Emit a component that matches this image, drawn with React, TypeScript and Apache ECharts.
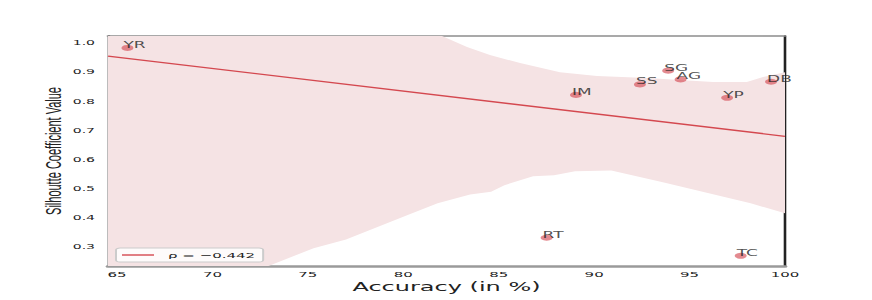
import React, { useEffect, useRef } from "react";
import * as echarts from "echarts";

// ---- data ----
const pointNames = ["YR", "RT", "IM", "SS", "SG", "AG", "YP", "TC", "DB"];
const accuracy = [65.55, 87.51, 89.05, 92.4, 93.88, 94.53, 96.97, 97.68, 99.27];
const silhouette = [0.983, 0.332, 0.822, 0.858, 0.905, 0.875, 0.812, 0.27, 0.867];

const fitX = [64.53, 100];
const fitY = [0.955, 0.68];

const bandUpperX = [64.53, 82.03, 83.34, 84.54, 86.12, 88.21, 90.15, 92.77, 96.23, 98.0, 98.85, 100];
const bandUpperY = [1.5, 1.024, 0.986, 0.959, 0.931, 0.9, 0.887, 0.88, 0.866, 0.866, 0.883, 0.9];
const bandLowerX = [64.53, 72.9, 75.3, 77.0, 80.3, 81.8, 83.5, 84.6, 85.3, 86.8, 87.9, 89.0, 90.9, 93.6, 98.2, 100];
const bandLowerY = [0.02, 0.234, 0.296, 0.326, 0.412, 0.45, 0.48, 0.49, 0.512, 0.543, 0.546, 0.56, 0.563, 0.522, 0.45, 0.416];

const xTicks = [65, 70, 75, 80, 85, 90, 95, 100];
const yTicks = [0.3, 0.4, 0.5, 0.6, 0.7, 0.8, 0.9, 1.0];

const legendLabel = "ρ = −0.442";
const xTitle = "Accuracy (in %)";
const yTitle = "Silhoutte Coefficient Value";

const X_MIN = 64.53;
const X_MAX = 100;
const Y_MIN = 0.235;
const Y_MAX = 1.024;

const FONT = "DejaVu Sans";

export default function App() {
  const ref = useRef<HTMLDivElement>(null);

  useEffect(() => {
    if (!ref.current) return;
    const chart = echarts.init(ref.current, undefined, { renderer: "svg" });

    const option: any = {
      animation: false,
      backgroundColor: "#ffffff",
      grid: { left: 54, right: 43.5, top: 36, bottom: 34, containLabel: false },
      legend: {
        data: [{ name: legendLabel, icon: "rect" }],
        left: 58,
        top: 248,
        orient: "horizontal",
        backgroundColor: "rgba(255,255,255,0.85)",
        borderColor: "#cccccc",
        borderWidth: 1,
        borderRadius: 2,
        padding: [3, 4, 3, 3],
        itemWidth: 16,
        itemHeight: 1.4,
        itemGap: 6,
        itemStyle: { color: "#d4484f" },
        textStyle: { fontFamily: FONT, fontSize: 7.5, color: "#222", padding: [0, 0, 0, 2] },
      },
      xAxis: [
        {
          type: "value",
          min: X_MIN,
          max: X_MAX,
          position: "bottom",
          name: xTitle,
          nameLocation: "middle",
          nameGap: 14.5,
          nameMoveOverlap: false,
          nameTextStyle: { fontFamily: FONT, fontSize: 12, color: "#222", lineHeight: 12 },
          axisLine: { show: true, lineStyle: { color: "#9a9a9a", width: 2.5 } },
          axisTick: { show: false, customValues: xTicks },
          splitLine: { show: false },
          axisLabel: {
            customValues: xTicks,
            fontFamily: FONT,
            fontSize: 7.5,
            color: "#222",
            margin: 4,
            formatter: (v: number) => String(Math.round(v)),
          },
        },
        {
          type: "value",
          min: X_MIN,
          max: X_MAX,
          position: "top",
          axisLine: { show: true, lineStyle: { color: "#8c8c8c", width: 1.5 } },
          axisTick: { show: false },
          axisLabel: { show: false },
          splitLine: { show: false },
        },
      ],
      yAxis: [
        {
          type: "value",
          min: Y_MIN,
          max: Y_MAX,
          position: "left",
          name: yTitle,
          nameLocation: "middle",
          nameGap: 22,
          nameMoveOverlap: false,
          nameRotate: 90,
          nameTextStyle: { fontFamily: "Liberation Sans", fontSize: 11, color: "#222" },
          axisLine: { show: true, lineStyle: { color: "#222", width: 1.3 } },
          axisTick: { show: false, customValues: yTicks },
          splitLine: { show: false },
          axisLabel: {
            customValues: yTicks,
            fontFamily: FONT,
            fontSize: 7,
            color: "#222",
            margin: 6.5,
            formatter: (v: number) => v.toFixed(1),
          },
        },
        {
          type: "value",
          min: Y_MIN,
          max: Y_MAX,
          position: "right",
          axisLine: { show: true, lineStyle: { color: "#222", width: 1.3 } },
          axisTick: { show: false },
          axisLabel: { show: false },
          splitLine: { show: false },
        },
      ],
      series: [
        {
          type: "custom",
          xAxisIndex: 0,
          yAxisIndex: 0,
          clip: true,
          z: 1,
          silent: true,
          data: [[fitX[0], fitY[0]]],
          renderItem: (_params: any, api: any) => {
            const pts: number[][] = [];
            for (let i = 0; i < bandUpperX.length; i++) {
              pts.push(api.coord([bandUpperX[i], bandUpperY[i]]));
            }
            for (let i = bandLowerX.length - 1; i >= 0; i--) {
              pts.push(api.coord([bandLowerX[i], bandLowerY[i]]));
            }
            return {
              type: "polygon",
              shape: { points: pts },
              style: { fill: "#f5e3e4", stroke: "none" },
            };
          },
        },
        {
          name: legendLabel,
          type: "line",
          xAxisIndex: 0,
          yAxisIndex: 0,
          z: 2,
          symbol: "none",
          showSymbol: false,
          data: fitX.map((x, i) => [x, fitY[i]]),
          lineStyle: { color: "#d4484f", width: 1.3 },
          itemStyle: { color: "#d4484f" },
        },
        {
          type: "scatter",
          xAxisIndex: 0,
          yAxisIndex: 0,
          z: 3,
          symbol: "circle",
          symbolSize: 6,
          data: accuracy.map((x, i) => [x, silhouette[i]]),
          itemStyle: { color: "rgba(214,82,92,0.85)" },
          label: {
            show: true,
            formatter: (p: any) => pointNames[p.dataIndex],
            position: [1, 4.5],
            align: "left",
            verticalAlign: "bottom",
            fontFamily: FONT,
            fontSize: 8.5,
            color: "#222",
          },
        },
      ],
    };

    chart.setOption(option);
    return () => chart.dispose();
  }, []);

  return (
    <div
      ref={ref}
      style={{
        position: "absolute",
        left: 0,
        top: 0,
        width: 436,
        height: 300,
        transform: "scaleX(2)",
        transformOrigin: "0 0",
      }}
    />
  );
}
